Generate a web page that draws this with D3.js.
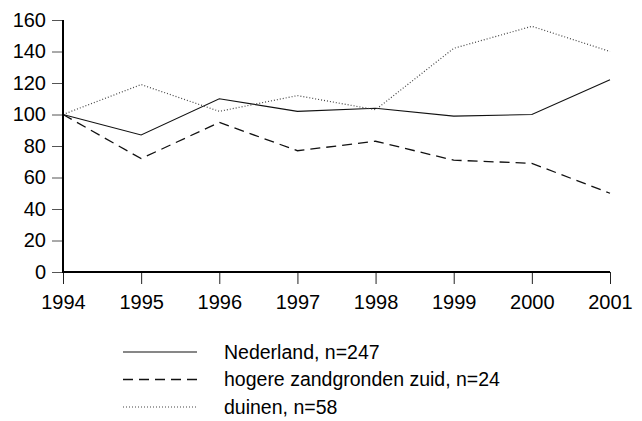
<!DOCTYPE html>
<html>
<head>
<meta charset="utf-8">
<script src="https://cdn.jsdelivr.net/npm/d3@7"></script>
<style>
  body { margin: 0; background: #fff; }
  svg { font-family: "Liberation Sans", Arial, sans-serif; }
</style>
</head>
<body>
<script>
// gegevens
const years = [1994, 1995, 1996, 1997, 1998, 1999, 2000, 2001];
const nederland = [100, 87, 110, 102, 104, 99, 100, 122];
const zandgronden = [100, 72, 95, 77, 83, 71, 69, 50];
const duinen = [100, 119, 102, 112, 103, 142, 156, 140];
const yTicks = [0, 20, 40, 60, 80, 100, 120, 140, 160];
const seriesNames = ['Nederland, n=247', 'hogere zandgronden zuid, n=24', 'duinen, n=58'];

const width = 642;
const height = 421;
const margin = { top: 20, right: 32, bottom: 149, left: 63 };

const series = [
   { name: seriesNames[0], values: nederland, dash: null, color: '#111', w: 1.1 },
   { name: seriesNames[1], values: zandgronden, dash: '10,6', color: '#111', w: 1.3 },
   { name: seriesNames[2], values: duinen, dash: '1,2', color: '#444', w: 1.2 }
];

const svg = d3.select('body')
   .append('svg')
   .attr('width', width)
   .attr('height', height);

// schalen
const x = d3.scaleLinear()
   .domain([1994, 2001])
   .range([margin.left, width - margin.right]);

const y = d3.scaleLinear()
   .domain([0, 160])
   .range([height - margin.bottom, margin.top]);

// y-as
const yAxis = svg.append('g')
   .attr('transform', `translate(${margin.left},0)`)
   .call(d3.axisLeft(y).tickValues(yTicks).tickSize(11).tickPadding(6))
   .call(g => g.select('.domain').remove());
yAxis.selectAll('.tick line').attr('stroke', '#555');
yAxis.selectAll('.tick text').attr('font-size', 20).attr('fill', '#000')
   .attr('font-family', '"Liberation Sans", Arial, sans-serif');

// x-as
const xAxis = svg.append('g')
   .attr('transform', `translate(0,${height - margin.bottom})`)
   .call(d3.axisBottom(x).tickValues(years).tickFormat(d3.format('d')).tickSize(12).tickPadding(11))
   .call(g => g.select('.domain').remove());
xAxis.selectAll('.tick line').attr('stroke', '#222');
xAxis.selectAll('.tick text').attr('font-size', 20).attr('fill', '#000')
   .attr('font-family', '"Liberation Sans", Arial, sans-serif');

// lijnen
const line = d3.line()
   .x((d, i) => x(years[i]))
   .y(d => y(d));

svg.append('g')
   .selectAll('path')
   .data(series)
   .join('path')
      .attr('d', d => line(d.values))
      .attr('fill', 'none')
      .attr('stroke', d => d.color)
      .attr('stroke-width', d => d.w)
      .attr('stroke-dasharray', d => d.dash);

// assen (dik)
svg.append('line')
   .attr('x1', margin.left).attr('x2', margin.left)
   .attr('y1', y(160)).attr('y2', y(0) + 1)
   .attr('stroke', '#000').attr('stroke-width', 2);
svg.append('line')
   .attr('x1', margin.left - 1).attr('x2', x(2001))
   .attr('y1', y(0)).attr('y2', y(0))
   .attr('stroke', '#000').attr('stroke-width', 2);

// legenda
const legend = svg.append('g');
const legendItems = legend.selectAll('g')
   .data(series)
   .join('g')
      .attr('transform', (d, i) => `translate(123, ${352 + i * 27.5})`);

legendItems.append('line')
   .attr('x1', 0).attr('x2', 74)
   .attr('stroke', d => d.color)
   .attr('stroke-width', d => d.w)
   .attr('stroke-dasharray', d => d.dash);

legendItems.append('text')
   .attr('x', 101)
   .attr('dy', '0.35em')
   .attr('font-size', 19.5)
   .text(d => d.name);
</script>
</body>
</html>
